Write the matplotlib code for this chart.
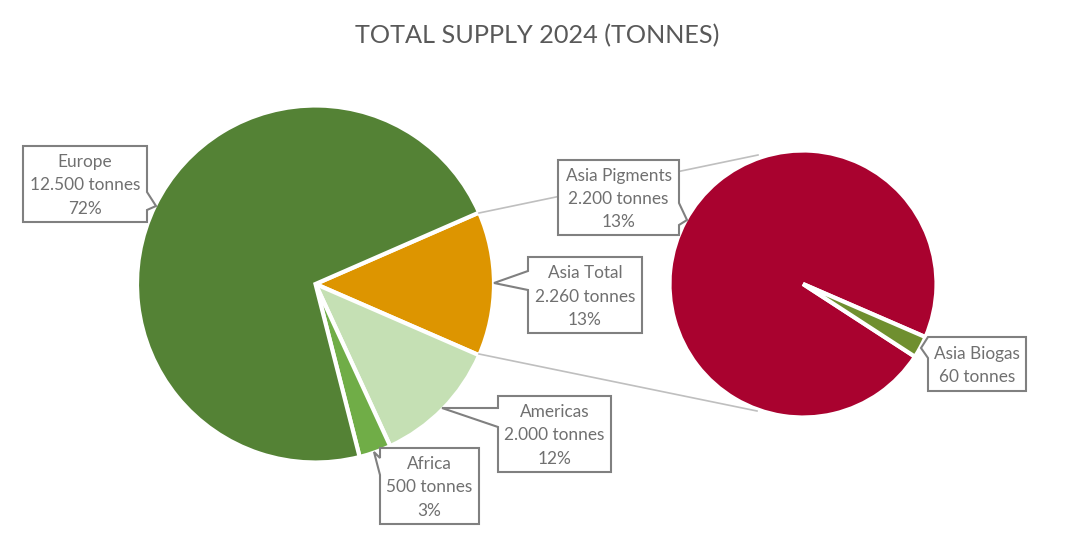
"""TOTAL SUPPLY 2024 - pie of pie chart"""
import matplotlib
matplotlib.use('Agg')
import matplotlib.pyplot as plt
from matplotlib.patches import Polygon

plt.rcParams['font.family'] = ['Lato', 'DejaVu Sans']

# data
regions = ['Asia Total', 'Americas', 'Africa', 'Europe']
region_tonnes = [2260, 2000, 500, 12500]
region_pct = ['13%', '12%', '3%', '72%']
region_colors = ['#DD9500', '#C5E0B4', '#70AD47', '#548235']

asia = ['Asia Pigments', 'Asia Biogas']
asia_tonnes = [2200, 60]
asia_pct = ['13%', None]
asia_colors = ['#A9022F', '#6F8F2F']

TEXT_GREY = '#707070'
BOX_GREY = '#808080'
H = 533


def fmt_label(name, tonnes, pct):
    # tonnes with dot as thousands separator
    val = f'{tonnes:,}'.replace(',', '.')
    lines = [name, f'{val} tonnes']
    if pct:
        lines.append(pct)
    return '\n'.join(lines)


def callout(ax, box, pointer, text):
    """box = (x0, y0, x1, y1), pointer = outline points between corners (pixels, y down)"""
    x0, y0, x1, y1 = box
    pts = pointer(x0, y0, x1, y1)
    pts = [(x, H - y) for x, y in pts]
    ax.add_patch(Polygon(pts, closed=True, facecolor='white', edgecolor=BOX_GREY,
                         linewidth=1.5, joinstyle='miter', zorder=5))
    ax.text((x0 + x1) / 2, H - (y0 + y1) / 2 - 1.5, text, ha='center', va='center',
            fontsize=12.4, color=TEXT_GREY, linespacing=1.55, zorder=6)


fig = plt.figure(figsize=(10.74, 5.33), dpi=100)
ax = fig.add_axes([0, 0, 1, 1])

# main pie
ax.pie(region_tonnes, colors=region_colors, startangle=23.6, counterclock=False,
       center=(315.5, H - 284), radius=178.5,
       wedgeprops=dict(edgecolor='white', linewidth=3))

# second pie
ax.pie(asia_tonnes, colors=asia_colors, startangle=-33, counterclock=False,
       center=(803, H - 284), radius=133.5,
       wedgeprops=dict(edgecolor='white', linewidth=3))

ax.set_xlim(0, 1074)
ax.set_ylim(0, H)
ax.set_aspect('equal')
ax.axis('off')

# connector lines
ax.plot([479, 758], [H - 213, H - 155], color='#BFBFBF', lw=1.2, zorder=1)
ax.plot([479, 757], [H - 354, H - 411], color='#BFBFBF', lw=1.2, zorder=1)

# callouts
callout(ax, (23, 146, 147, 222),
        lambda x0, y0, x1, y1: [(x0, y0), (x1, y0), (x1, 192), (156, 206), (x1, 210), (x1, y1), (x0, y1)],
        fmt_label(regions[3], region_tonnes[3], region_pct[3]))
callout(ax, (558, 160, 679, 235),
        lambda x0, y0, x1, y1: [(x0, y0), (x1, y0), (x1, 203), (687, 220), (x1, 225), (x1, y1), (x0, y1)],
        fmt_label(asia[0], asia_tonnes[0], asia_pct[0]))
callout(ax, (528, 257, 642, 333),
        lambda x0, y0, x1, y1: [(x0, y0), (x1, y0), (x1, y1), (x0, y1), (x0, 290), (494, 283), (x0, 271)],
        fmt_label(regions[0], region_tonnes[0], region_pct[0]))
callout(ax, (498, 396, 611, 472),
        lambda x0, y0, x1, y1: [(x0, y0), (x1, y0), (x1, y1), (x0, y1), (x0, 427), (442, 408), (x0, 408)],
        fmt_label(regions[1], region_tonnes[1], region_pct[1]))
callout(ax, (380, 448, 479, 524),
        lambda x0, y0, x1, y1: [(x0, y0), (x1, y0), (x1, y1), (x0, y1), (x0, 475), (374, 452), (380, 458)],
        fmt_label(regions[2], region_tonnes[2], region_pct[2]))
callout(ax, (928, 337, 1026, 391),
        lambda x0, y0, x1, y1: [(x0, y0), (x1, y0), (x1, y1), (x0, y1), (x0, 358), (921, 348)],
        fmt_label(asia[1], asia_tonnes[1], asia_pct[1]))

ax.text(537.5, H - 36, 'TOTAL SUPPLY 2024 (TONNES)', ha='center', va='center',
        fontsize=18.2, color='#595959')

fig.savefig('out.png', dpi=100, facecolor='white')
plt.close(fig)
